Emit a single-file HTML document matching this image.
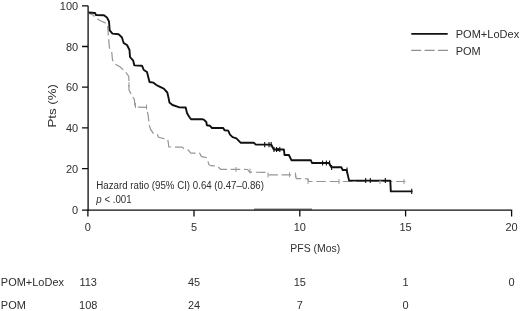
<!DOCTYPE html>
<html><head><meta charset="utf-8">
<style>
html,body{margin:0;padding:0;background:#fff;}
body{width:520px;height:311px;overflow:hidden;position:relative;}
svg{position:absolute;left:0;top:0;display:block;}
text{font-family:"Liberation Sans",Arial,Helvetica,sans-serif;fill:#2e2e2e;}
</style></head><body>
<svg width="520" height="311" viewBox="0 0 520 311">
<rect width="520" height="311" fill="#fff"/>
<g stroke="#0c0c0c" stroke-width="1.3" fill="none">
<path d="M88.1 5.8V210.65"/>
<path d="M87.5 210.15H512.2"/>
<path d="M82 5.8H88.1M82 46.5H88.1M82 87.2H88.1M82 127.9H88.1M82 168.6H88.1M82 210.15H88.1"/>
<path d="M87.9 210.15V216.5M194 210.15V216.5M299.8 210.15V216.5M405.6 210.15V216.5M511.6 210.15V216.5"/>
</g>
<path d="M254 209.2H312" stroke="#333" stroke-width="1"/>
<path fill="none" stroke="#969696" stroke-width="1.2" stroke-dasharray="9.6 3.7" stroke-dashoffset="3.07" d="M88.8 13.5L93 15L96.5 18.5L100 20.5L104.7 22.6L107.6 24.5L108.4 36L109.4 47.6L111.8 52.6L112.5 60L115.7 64.5L120 66.8L125 71.5L127.5 74.5L128.8 76.5L129 90L132 95.6L134.4 99.4L135 107L146.5 107.3L147.3 111.3L148.2 115.7L148.9 122L149.4 125.6L150.6 129.4L153.2 133.2L157.5 134.4L158.2 137L162 138.2L167.6 139.4L168.2 142L168.8 147L182 147.1L184 148.8L188.3 150.1L190.8 153.2L199.6 153.2L201.5 156.6L206.3 157.5L207.5 159.4L208.8 164.4L210.7 165.7L216.3 166L218.8 167.6L220.7 169.3L247.7 169.5L249.6 172.2L265 172.3L267.8 174.8L295.6 174.8L296.3 178.6L307.9 178.8L308.8 181.5L405.4 181.5"/>
<path fill="none" stroke="#111" stroke-width="1.9" stroke-linejoin="round" d="M88.5 12.5L95 13L96 15L104 15.3L107.2 17.8L109 21.5L109.7 30.3L112.5 33.6L118.8 34.3L122 37.5L123 41L123.8 43.2L127 45L128.5 48L129.5 50L130 57L133.2 60.7L134.4 65.4L142 65.7L143.8 70L147 72L148 76L149.5 82L153.2 82.6L156.4 85L159 86.3L162.7 88.2L163.8 88.6L167.3 92.5L168.5 97.6L169.4 102.4L172.5 105L178.8 107.2L185.7 107.5L187 113L189 116.5L191 119.3L202.7 119.3L203.8 119.6L206.3 122L206.9 125.2L210 125.8L212 128L223.2 128L224.5 130.2L228.2 130.6L230 134.6L232.6 137.1L236.4 138.3L240.8 142.8L254 142.8L255.8 144.6L271.3 144.6L273.8 149.5L283.9 149.5L284.5 155L288.9 155L291.4 160.2L310.8 160.2L312 163L329 163L331.4 167.3L341.4 167.3L342.7 170L346.6 170L349.1 180.6L390.3 180.6L390.8 191.4L412.5 191.4"/>
<path stroke="#111" stroke-width="1.1" d="M264.7 142.1V147.29999999999998M269 142.1V147.29999999999998M271.2 142.1V147.29999999999998M274 146.9V152.1M276.5 146.9V152.1M279.8 146.9V152.1M322.6 160.4V165.6M326.4 160.4V165.6M329.6 160.4V165.6M331.6 164.9V170.1M347 167.4V172.6M365.7 177.9V183.1M370.3 177.9V183.1M385.3 177.9V183.1M411.7 188.8V194.0"/>
<circle cx="278" cy="149.6" r="1.6" fill="#111"/>
<path stroke="#9a9a9a" stroke-width="1" d="M339 179.1V184.1M380 179.1V184.1M404 179.1V184.1M289.5 172.3V177.3M250 168.5V173.5M236 167.0V172.0M268 172.5V177.5M295.5 172.5V177.5M308 179.1V184.1M129 82.0V87.0M135.5 103.0V108.0M146.5 104.5V109.5"/>
<path d="M411.3 33.8H447.7" stroke="#111" stroke-width="1.7"/>
<path d="M411.2 50.4H448" stroke="#909090" stroke-width="1.2" stroke-dasharray="10 3.4"/>
<text transform="translate(455.7 38.2) scale(1 1.05)" font-size="11" textLength="63.5" lengthAdjust="spacingAndGlyphs">POM+LoDex</text>
<text transform="translate(455.7 54.5) scale(1 1.05)" font-size="11">POM</text>
<text transform="translate(78.1 9.9) scale(1 1.05)" font-size="11" text-anchor="end">100</text>
<text transform="translate(78.1 50.6) scale(1 1.05)" font-size="11" text-anchor="end">80</text>
<text transform="translate(78.1 91.3) scale(1 1.05)" font-size="11" text-anchor="end">60</text>
<text transform="translate(78.1 132.0) scale(1 1.05)" font-size="11" text-anchor="end">40</text>
<text transform="translate(78.1 172.7) scale(1 1.05)" font-size="11" text-anchor="end">20</text>
<text transform="translate(78.1 214.2) scale(1 1.05)" font-size="11" text-anchor="end">0</text>
<text transform="translate(56.2 127.5) rotate(-90) scale(1 0.98)" font-size="11.5" textLength="43.4" lengthAdjust="spacingAndGlyphs">Pts (%)</text>
<text transform="translate(87.9 231.3) scale(1 1.05)" font-size="11" text-anchor="middle">0</text>
<text transform="translate(194 231.3) scale(1 1.05)" font-size="11" text-anchor="middle">5</text>
<text transform="translate(299.8 231.3) scale(1 1.05)" font-size="11" text-anchor="middle">10</text>
<text transform="translate(405.6 231.3) scale(1 1.05)" font-size="11" text-anchor="middle">15</text>
<text transform="translate(511.6 231.3) scale(1 1.05)" font-size="11" text-anchor="middle">20</text>
<text transform="translate(315.3 252) scale(1 1.05)" font-size="11" text-anchor="middle" textLength="50" lengthAdjust="spacingAndGlyphs">PFS (Mos)</text>
<text transform="translate(96.3 188.9) scale(1 1.05)" font-size="9.7" textLength="167.7" lengthAdjust="spacingAndGlyphs">Hazard ratio (95% CI) 0.64 (0.47–0.86)</text>
<text transform="translate(96.3 203.2) scale(1 1.05)" font-size="9.7"><tspan font-style="italic">p</tspan> &lt; .001</text>
<text transform="translate(0.8 286.3) scale(1 1.05)" font-size="11" textLength="63.2" lengthAdjust="spacingAndGlyphs">POM+LoDex</text>
<text transform="translate(0.8 309.1) scale(1 1.05)" font-size="11">POM</text>
<text transform="translate(88.2 286.3) scale(1 1.05)" font-size="11" text-anchor="middle">113</text>
<text transform="translate(194 286.3) scale(1 1.05)" font-size="11" text-anchor="middle">45</text>
<text transform="translate(299.8 286.3) scale(1 1.05)" font-size="11" text-anchor="middle">15</text>
<text transform="translate(405.6 286.3) scale(1 1.05)" font-size="11" text-anchor="middle">1</text>
<text transform="translate(511.6 286.3) scale(1 1.05)" font-size="11" text-anchor="middle">0</text>
<text transform="translate(88.2 309.1) scale(1 1.05)" font-size="11" text-anchor="middle">108</text>
<text transform="translate(194 309.1) scale(1 1.05)" font-size="11" text-anchor="middle">24</text>
<text transform="translate(299.8 309.1) scale(1 1.05)" font-size="11" text-anchor="middle">7</text>
<text transform="translate(405.6 309.1) scale(1 1.05)" font-size="11" text-anchor="middle">0</text>
</svg>
</body></html>
